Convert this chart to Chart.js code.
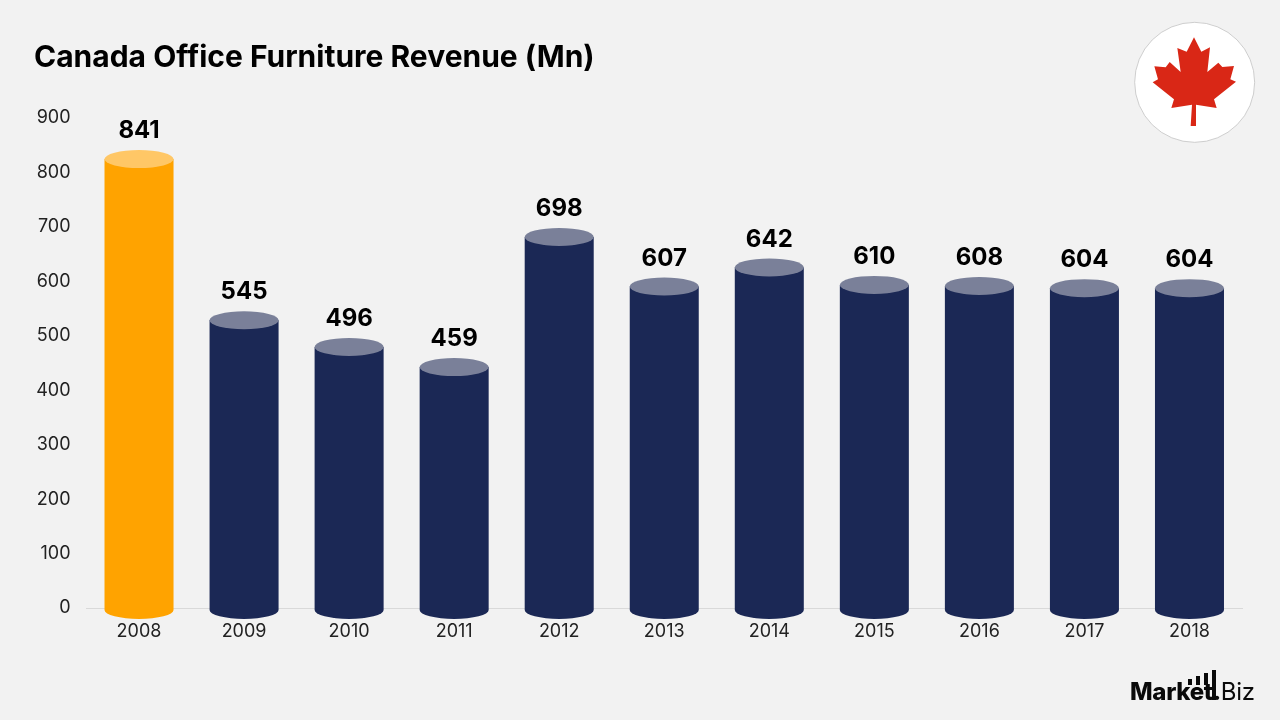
<!DOCTYPE html>
<html>
<head>
<meta charset="utf-8">
<title>Canada Office Furniture Revenue</title>
<script src="https://cdn.jsdelivr.net/npm/chart.js@4/dist/chart.umd.js"></script>
<style>
  html, body { margin: 0; background: #f2f2f2; }
  #wrap { position: relative; width: 1280px; height: 720px; overflow: hidden; }
  #revenueChart { position: absolute; left: 0; top: 0; }
  #flag { position: absolute; left: 1120px; top: 10px; }
  #logo { position: absolute; left: 1130px; top: 668px; width: 130px; height: 40px; }
  #logo span {
    position: absolute; left: 0; top: 10px; white-space: nowrap;
    font-family: Inter, sans-serif; font-size: 24px; line-height: 28px;
    color: #0a0a0a; font-weight: 800; letter-spacing: -0.3px;
  }
  #logo span b { font-weight: 400; }
</style>
</head>
<body>
<div id="wrap">
  <canvas id="revenueChart" width="1280" height="720"></canvas>

  <svg id="flag" width="150" height="140" viewBox="0 0 450 420">
    <circle cx="224" cy="217" r="180" fill="#fff" stroke="#c4c4c4" stroke-width="2.5"/>
    <path fill="#d92716" d="M222 82 L244 125 L270 112 L262 186 L295 158 L307 171 L342 168 L331 208 L348 215 L282 268 L290 294 L228 284 L228 348 L212 348 L216 284 L154 294 L162 268 L98 217 L114 208 L103 169 L137 172 L149 156 L182 186 L172 114 L200 125 Z"/>
  </svg>

  <div id="logo">
    <span>Market.<b>Biz</b></span>
    <svg width="130" height="40" style="position:absolute;left:0;top:0">
      <rect x="58" y="11" width="4" height="6" fill="#0a0a0a"/>
      <rect x="66" y="8" width="4" height="9" fill="#0a0a0a"/>
      <rect x="74" y="5" width="4" height="12" fill="#0a0a0a"/>
      <rect x="82" y="2" width="4" height="30" fill="#0a0a0a"/>
    </svg>
  </div>
</div>

<script>
const years = ['2008','2009','2010','2011','2012','2013','2014','2015','2016','2017','2018']
const revenue = [841,545,496,459,698,607,642,610,608,604,604]
const yTicks = [0,100,200,300,400,500,600,700,800,900]

const ORANGE = '#ffa300'
const ORANGE_CAP = '#ffc766'
const NAVY = '#1b2855'
const NAVY_CAP = '#7a8099'
const CAP_RY = 9

// bars are painted as cylinders, the value sits at the top of the cap
const cylinders = {
  id: 'cylinders',
  beforeDatasetDraw(chart, args) {
    const ctx = chart.ctx
    const bars = chart.getDatasetMeta(args.index).data
    ctx.save()
    bars.forEach((bar, i) => {
      const rx = bar.width / 2
      const capY = bar.y + CAP_RY
      const footY = bar.base + 2

      ctx.fillStyle = i === 0 ? ORANGE : NAVY
      ctx.beginPath()
      ctx.moveTo(bar.x - rx, capY)
      ctx.lineTo(bar.x - rx, footY)
      ctx.ellipse(bar.x, footY, rx, CAP_RY, 0, Math.PI, 0, true)
      ctx.lineTo(bar.x + rx, capY)
      ctx.closePath()
      ctx.fill()

      ctx.fillStyle = i === 0 ? ORANGE_CAP : NAVY_CAP
      ctx.beginPath()
      ctx.ellipse(bar.x, capY, rx, CAP_RY, 0, 0, Math.PI * 2)
      ctx.fill()

      ctx.fillStyle = '#000'
      ctx.font = '700 24px Inter, sans-serif'
      ctx.textAlign = 'center'
      ctx.textBaseline = 'middle'
      ctx.fillText(revenue[i], bar.x, bar.y - 19)
    })
    ctx.restore()
    return false
  }
}

new Chart(document.getElementById('revenueChart'), {
  type: 'bar',
  data: {
    labels: years,
    datasets: [{
      data: revenue,
      backgroundColor: years.map((y, i) => i === 0 ? ORANGE : NAVY),
      categoryPercentage: 1,
      barPercentage: 0.657
    }]
  },
  plugins: [cylinders],
  options: {
    responsive: false,
    animation: false,
    layout: { padding: { left: 34, right: 38, top: 40, bottom: 0 } },
    plugins: {
      legend: { display: false },
      tooltip: { enabled: false },
      title: {
        display: true,
        text: 'Canada Office Furniture Revenue (Mn)',
        align: 'start',
        color: '#000',
        font: { family: 'Inter, sans-serif', size: 30, weight: '700' },
        padding: { top: 0, bottom: 42 }
      }
    },
    scales: {
      x: {
        grid: { display: false, drawTicks: false },
        border: { color: '#d9d9d9', width: 1 },
        ticks: { color: '#222', padding: 13, font: { family: 'Inter, sans-serif', size: 18 }, maxRotation: 0 },
        afterFit(scale) { scale.height = 112 }
      },
      y: {
        min: 0,
        max: 900,
        grid: { display: false, drawTicks: false },
        border: { display: false },
        afterBuildTicks(scale) { scale.ticks = yTicks.map(v => ({ value: v })) },
        ticks: { color: '#222', padding: 16, font: { family: 'Inter, sans-serif', size: 18 } },
        afterFit(scale) { scale.width = 52.5 }
      }
    }
  }
})
</script>
</body>
</html>
